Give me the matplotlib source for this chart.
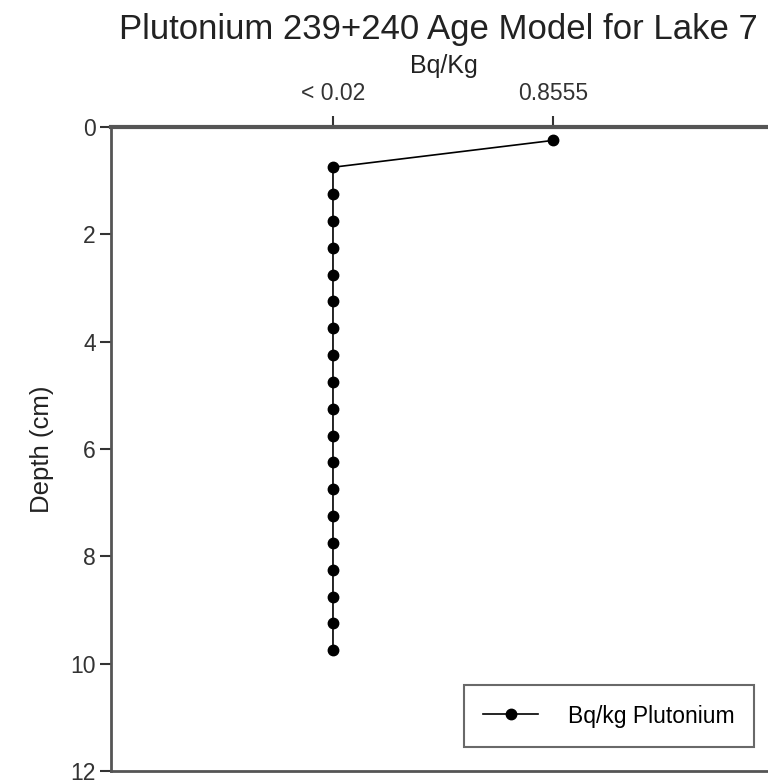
import matplotlib.pyplot as plt

plt.rcParams['font.family'] = ['Liberation Sans', 'DejaVu Sans']

# depth (cm) and Pu activity (Bq/kg)
depth = [0.25, 0.75, 1.25, 1.75, 2.25, 2.75, 3.25, 3.75, 4.25, 4.75,
         5.25, 5.75, 6.25, 6.75, 7.25, 7.75, 8.25, 8.75, 9.25, 9.75]
activity = [0.8555] + [0.02] * 19
xtick_vals = [0.02, 0.8555]
xtick_labels = ['< 0.02', '0.8555']
ytick_vals = [0, 2, 4, 6, 8, 10, 12]

W, H = 768, 784
fig = plt.figure(figsize=(W / 100, H / 100), dpi=100)
# axes run off the right edge like in the original screenshot
ax = fig.add_axes([111 / W, 13 / H, (820 - 111) / W, 644 / H])

ax.plot(activity, depth, color='black', lw=1.2, marker='o', ms=7.5,
        label='Bq/kg Plutonium')

ax.set_xlim(-0.823, 1.8695)
ax.set_ylim(12, 0)
ax.xaxis.tick_top()
ax.xaxis.set_label_position('top')
ax.set_xticks(xtick_vals)
ax.set_xticklabels(xtick_labels)
ax.set_yticks(ytick_vals)
ax.tick_params(axis='both', labelsize=16.5, colors='#333333', length=8, width=1.5)
ax.tick_params(axis='x', pad=8)
ax.tick_params(axis='y', pad=3)
ax.set_ylabel('Depth (cm)', fontsize=18.5, color='#222222', labelpad=12)

for side in ['left', 'bottom', 'top', 'right']:
    ax.spines[side].set_color('#555555')
    ax.spines[side].set_linewidth(2)
ax.spines['top'].set_linewidth(3)

# only the visible part of the title (the reference is cropped after "7")
fig.text(119 / W, 1 - 30 / H, 'Plutonium 239+240 Age Model for Lake 7',
         fontsize=25, color='#222222', ha='left', va='center')
fig.text(444 / W, 1 - 66 / H, 'Bq/Kg', fontsize=18, color='#222222',
         ha='center', va='center')

leg = ax.legend(loc='center', bbox_to_anchor=(609 / W, 1 - 716 / H),
                bbox_transform=fig.transFigure, fontsize=16.5, frameon=True,
                fancybox=False, handlelength=2.4, borderpad=0.85, handletextpad=1.3)
leg.get_frame().set_edgecolor('#444444')
leg.get_frame().set_linewidth(1.5)

fig.savefig('out.png', dpi=100)
